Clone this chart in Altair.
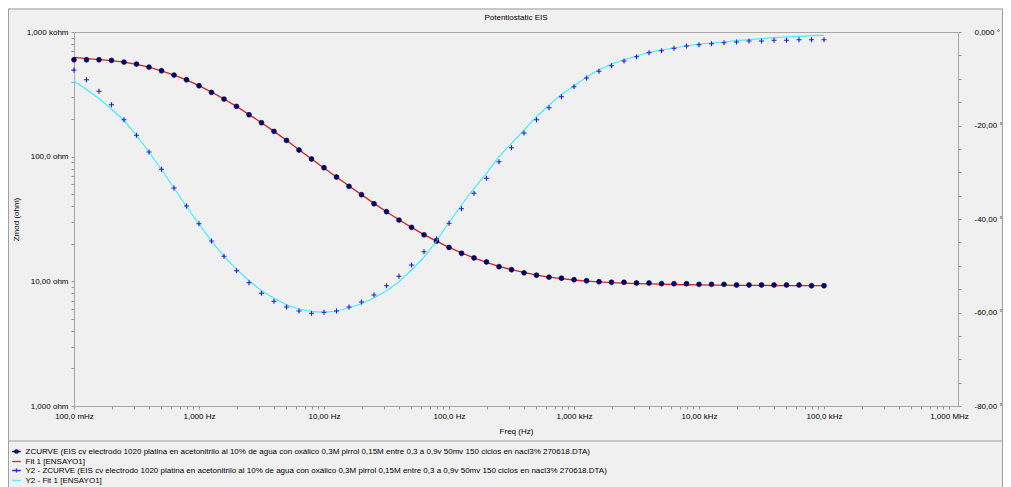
import altair as alt
import pandas as pd

# ---------------- data ----------------
freq_hz = [0.1, 0.1259, 0.1585, 0.1995, 0.2512, 0.3162, 0.3981, 0.5012, 0.631, 0.7943,
           1.0, 1.259, 1.585, 1.995, 2.512, 3.162, 3.981, 5.012, 6.31, 7.943,
           10.0, 12.59, 15.85, 19.95, 25.12, 31.62, 39.81, 50.12, 63.1, 79.43,
           100.0, 125.9, 158.5, 199.5, 251.2, 316.2, 398.1, 501.2, 631.0, 794.3,
           1000.0, 1259.0, 1585.0, 1995.0, 2512.0, 3162.0, 3981.0, 5012.0, 6310.0, 7943.0,
           10000.0, 12589.0, 15849.0, 19953.0, 25119.0, 31623.0, 39811.0, 50119.0, 63096.0, 79433.0,
           100000.0]

zmod_ohm = [598.5, 598.5, 598.5, 592, 573.6, 552.8, 523, 488.6, 451.3, 413.7,
            370.3, 327.8, 289.7, 253.2, 216.8, 187.0, 159.6, 135.1, 113.0, 95.7,
            81.5, 68.6, 57.8, 49.5, 41.9, 36.2, 31.0, 27.1, 23.6, 21.0,
            18.7, 16.8, 15.4, 14.3, 13.1, 12.4, 11.7, 11.2, 10.8, 10.6,
            10.3, 10.1, 9.93, 9.82, 9.82, 9.69, 9.69, 9.57, 9.57, 9.57,
            9.46, 9.46, 9.46, 9.34, 9.34, 9.34, 9.34, 9.34, 9.34, 9.22,
            9.22]

zmod_fit_ohm = [625, 612, 601, 590, 573, 551, 522, 488, 451, 413,
                371, 329, 290, 253, 218, 187, 159.6, 135.5, 113.5, 95.7,
                81.2, 68.8, 58.2, 49.6, 42.2, 36.2, 31.2, 27.1, 23.7, 21.0,
                18.7, 16.9, 15.4, 14.2, 13.2, 12.4, 11.8, 11.2, 10.8, 10.5,
                10.25, 10.05, 9.9, 9.78, 9.68, 9.6, 9.53, 9.48, 9.43, 9.39,
                9.36, 9.33, 9.31, 9.29, 9.28, 9.27, 9.26, 9.25, 9.24, 9.24,
                9.23]

phase_deg = [-8.13, -10.20, -12.68, -15.55, -18.76, -22.10, -25.67, -29.37, -33.37, -37.22,
             -41.00, -44.71, -47.98, -51.06, -53.63, -55.89, -57.60, -58.82, -59.68, -60.17,
             -59.96, -59.68, -58.82, -57.75, -56.26, -54.27, -52.26, -49.84, -47.00, -44.21,
             -40.92, -37.80, -34.50, -31.29, -27.74, -24.75, -21.60, -18.76, -16.19, -13.84,
             -11.70, -9.84, -8.41, -7.21, -6.20, -5.28, -4.43, -4.00, -3.49, -2.99,
             -2.72, -2.50, -2.29, -2.14, -1.93, -1.93, -1.78, -1.78, -1.65, -1.65,
             -1.65]

phase_fit_deg = [-10.48, -12.30, -14.22, -16.47, -18.93, -22.10, -25.67, -29.41, -33.37, -37.33,
                 -41.07, -44.71, -47.98, -50.76, -53.20, -55.34, -56.96, -58.33, -59.25, -59.74,
                 -59.96, -59.68, -59.04, -58.12, -56.90, -55.34, -53.41, -50.91, -48.13, -44.71,
                 -40.75, -37.01, -33.43, -30.22, -26.67, -23.81, -20.96, -18.12, -15.61, -13.33,
                 -11.55, -9.63, -8.06, -6.84, -5.93, -5.13, -4.34, -3.85, -3.42, -2.99,
                 -2.57, -2.35, -2.14, -1.86, -1.65, -1.43, -1.22, -1.07, -0.92, -0.79,
                 -0.71]

series_names = [
    "ZCURVE (EIS cv electrodo 1020 platina en acetonitrilo al 10% de agua con oxálico 0,3M pirrol 0,15M entre 0,3 a 0,9v 50mv 150 ciclos en nacl3% 270618.DTA)",
    "Fit 1 [ENSAYO1]",
    "Y2 - ZCURVE (EIS cv electrodo 1020 platina en acetonitrilo al 10% de agua con oxálico 0,3M pirrol 0,15M entre 0,3 a 0,9v 50mv 150 ciclos en nacl3% 270618.DTA)",
    "Y2 - Fit 1 [ENSAYO1]",
]

chart_title = ["Potentiostatic EIS"]

x_label_values = [0.1, 1, 10, 100, 1000, 10000, 100000, 1000000]
x_label_texts = ["100,0 mHz", "1,000 Hz", "10,00 Hz", "100,0 Hz",
                 "1,000 kHz", "10,00 kHz", "100,0 kHz", "1,000 MHz"]
y_label_values = [1, 10, 100, 1000]
y_label_texts = ["1,000 ohm", "10,00 ohm", "100,0 ohm", "1,000 kohm"]
phase_label_values = [-80, -60, -40, -20, 0]
phase_label_texts = ["-80,00 °", "-60,00 °", "-40,00 °", "-20,00 °", "0,000 °"]

# ---------------- styling ----------------
FONT = "Liberation Sans"
FS = 8
series_colors = ["#00005e", "#d42424", "#2a2ae6", "#55eef8"]
series_shapes = [
    "M-1,0H1M-0.4,0A0.4,0.4 0 1,0 0.4,0A0.4,0.4 0 1,0 -0.4,0",
    "M-1,0H1",
    "M-1,0H1M0,-0.5V0.5",
    "M-1,0H1",
]


def label_expr(vals, texts):
    expr = "''"
    for v, t in zip(vals, texts):
        expr = f"datum.value == {v} ? '{t}' : ({expr})"
    return expr


x_ticks = [round(m * 10.0 ** e, 10) for e in range(-1, 6) for m in range(1, 10)] + [1000000]
y_ticks = [round(m * 10.0 ** e, 10) for e in range(0, 3) for m in range(1, 10)] + [1000]
p_ticks = list(range(-80, 1, 5))

df = pd.DataFrame({"freq": freq_hz, "zmod": zmod_ohm, "zfit": zmod_fit_ohm,
                   "phase": phase_deg, "pfit": phase_fit_deg})

x_enc = alt.X("freq:Q",
              scale=alt.Scale(type="log", domain=[0.1, 1.18e6], nice=False),
              axis=alt.Axis(values=x_ticks, labelExpr=label_expr(x_label_values, x_label_texts),
                            title="Freq (Hz)", labelPadding=3, titlePadding=7))

ax_left = alt.Axis(values=y_ticks, labelExpr=label_expr(y_label_values, y_label_texts),
                   title="Zmod (ohm)", orient="left", labelPadding=3, titlePadding=6)
sc_left = alt.Scale(type="log", domain=[1, 1000], nice=False)

ax_right = alt.Axis(values=p_ticks, labelExpr=label_expr(phase_label_values, phase_label_texts),
                    orient="right", labelPadding=13, labelAlign="left")
sc_right = alt.Scale(domain=[-80, 0], nice=False, zero=False)

base = alt.Chart(df)

z_fit = base.mark_line(color=series_colors[1], strokeWidth=1.3).encode(
    x=x_enc, y=alt.Y("zfit:Q", scale=sc_left, axis=ax_left))
z_pts = base.mark_circle(size=24, color="#000080", opacity=1, stroke="#000020", strokeWidth=0.6).encode(
    x=x_enc, y=alt.Y("zmod:Q", scale=sc_left, axis=ax_left))
left = alt.layer(z_fit, z_pts)

p_fit = base.mark_line(color="#3ff0ff", strokeWidth=1.2).encode(
    x=x_enc, y=alt.Y("pfit:Q", scale=sc_right, axis=ax_right, title=None))
p_pts = base.mark_point(shape="M-1,0H1M0,-1V1", size=25, filled=False, color="#1c1ce0",
                        strokeWidth=1.1, opacity=1).encode(
    x=x_enc, y=alt.Y("phase:Q", scale=sc_right, axis=ax_right, title=None))
right = alt.layer(p_fit, p_pts)

legend = alt.Legend(title=None, orient="none", legendX=-62.5, legendY=414.5, direction="vertical",
                    symbolSize=72, symbolStrokeWidth=1.3, symbolOpacity=1,
                    labelFont=FONT, labelFontSize=FS, labelColor="#000", labelOffset=4,
                    labelLimit=1000, rowPadding=0, padding=0)
leg_df = pd.DataFrame({"series": series_names})
legend_layer = alt.Chart(leg_df).mark_point(opacity=0, filled=False).encode(
    color=alt.Color("series:N", scale=alt.Scale(domain=series_names, range=series_colors), legend=legend),
    shape=alt.Shape("series:N", scale=alt.Scale(domain=series_names, range=series_shapes), legend=legend),
)

title_df = pd.DataFrame({"t": chart_title})
title_layer = alt.Chart(title_df).mark_text(font=FONT, fontSize=FS, color="#000", align="center",
                                            baseline="middle").encode(
    text="t:N", x=alt.value(442), y=alt.value(-14))

rule_df = pd.DataFrame({"k": [0]})
frame_col = "#a0a0a0"
sep = alt.Chart(rule_df).mark_rule(color=frame_col, strokeWidth=1).encode(
    x=alt.value(-66), x2=alt.value(929), y=alt.value(409))
top_line = alt.Chart(rule_df).mark_rule(color=frame_col, strokeWidth=1).encode(
    x=alt.value(-66), x2=alt.value(929), y=alt.value(-23))
left_line = alt.Chart(rule_df).mark_rule(color=frame_col, strokeWidth=1).encode(
    x=alt.value(-65.5), y=alt.value(-23), y2=alt.value(460))
right_line = alt.Chart(rule_df).mark_rule(color=frame_col, strokeWidth=1).encode(
    x=alt.value(928.5), y=alt.value(-23), y2=alt.value(460))

chart = alt.layer(left, right, legend_layer, title_layer, sep, top_line, left_line, right_line).resolve_scale(
    y="independent"
).properties(
    width=884, height=374,
    autosize=alt.AutoSizeParams(type="none"),
    padding={"left": 66, "top": 24, "right": 45, "bottom": 81},
    background="#f0f0f0",
).configure_view(
    fill="white", stroke="#a8a8a8", strokeWidth=1
).configure_axis(
    labelFont=FONT, labelFontSize=FS, labelColor="#000", titleFont=FONT, titleFontSize=FS,
    titleFontWeight="normal", titleColor="#000", tickColor="#9a9a9a", tickSize=3,
    domain=False, grid=False, labelFlush=False, labelOverlap=False
)

chart.save("out.html", embed_options={"renderer": "svg", "actions": False})
